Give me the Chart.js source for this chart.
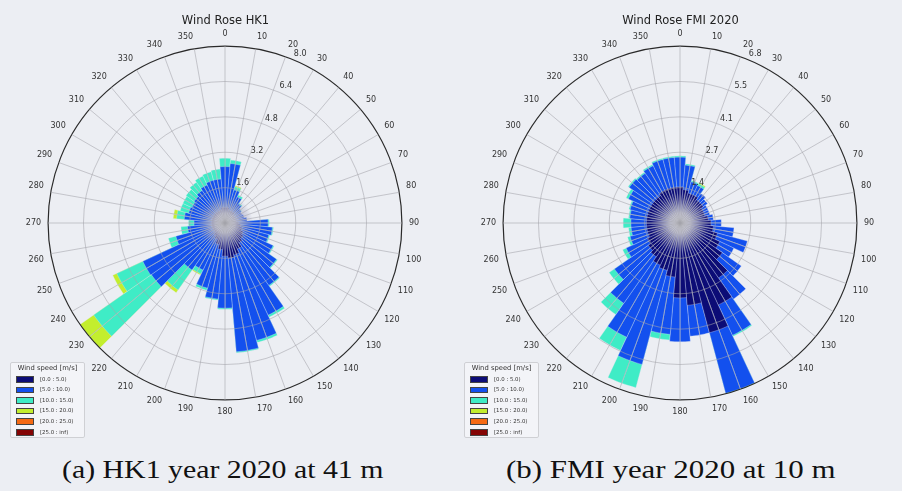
<!DOCTYPE html>
<html>
<head>
<meta charset="utf-8">
<script src="https://cdn.jsdelivr.net/npm/chart.js@4.4.1/dist/chart.umd.min.js"></script>
<style>
  html, body { margin: 0; padding: 0; }
  body { width: 902px; height: 491px; position: relative; overflow: hidden; background: #eceef3; }
  canvas { position: absolute; top: 0; }
  .legend { position: absolute; width: 73px; height: 74px; border: 1px solid #cfd0d4; border-radius: 2px;
            background: rgba(244,245,248,0.85); font-family: "DejaVu Sans", sans-serif; color: #333; }
  .legend .ttl { position: absolute; left: 0; width: 73px; top: 1px; text-align: center; font-size: 6.8px; line-height: 9px; }
  .legend .row { position: absolute; left: 5px; height: 8px; }
  .legend .sw { position: absolute; left: 0; top: 1.5px; width: 16px; height: 4.5px; border: 0.6px solid #444; }
  .legend .lb { position: absolute; left: 24px; top: 0; font-size: 5.4px; line-height: 8px; white-space: nowrap; }
  .cap { position: absolute; top: 455px; font-family: "Liberation Serif", "DejaVu Serif", serif; font-size: 25px;
         line-height: 30px; color: #111; white-space: nowrap; transform-origin: 0 50%; }
</style>
</head>
<body>
<canvas id="hk1" width="451" height="440" style="left:0"></canvas>
<canvas id="fmi" width="451" height="440" style="left:451px"></canvas>
<div class="legend" id="legHK1" style="left:10px; top:362px"></div>
<div class="legend" id="legFMI" style="left:464px; top:362px"></div>
<div class="cap" id="capA" data-center="222.5" data-width="321">(a) HK1 year 2020 at 41 m</div>
<div class="cap" id="capB" data-center="671" data-width="330">(b) FMI year 2020 at 10 m</div>
<script>
// Compass directions (degrees, clockwise from north) used as angular labels
const dirLabels = ['0','10','20','30','40','50','60','70','80','90','100','110','120','130','140','150','160','170',
                   '180','190','200','210','220','230','240','250','260','270','280','290','300','310','320','330','340','350'];

// Wind speed classes [m/s] and their colours
const speedBins = ['[0.0 : 5.0)', '[5.0 : 10.0)', '[10.0 : 15.0)', '[15.0 : 20.0)', '[20.0 : 25.0)', '[25.0 : inf)'];
const speedColors = ['#0c0c76', '#1350ee', '#3fecc6', '#c3ee2e', '#f56a14', '#840404'];

// HK1, 41 m: frequency [%] per direction for each speed class
const hk1_0_5   = [0.7,0.7,0.6,0.6,0.6,0.5,0.5,0.5,0.5,0.6,0.7,0.8,0.9,1.0,1.1,1.3,1.5,1.6,1.5,1.2,1.0,0.8,0.7,0.6,0.6,0.6,0.6,0.6,0.6,0.6,0.6,0.6,0.6,0.6,0.6,0.7];
const hk1_5_10  = [1.85,2.0,0.95,0.7,0.45,0.4,0.35,0.4,0.5,1.35,1.45,1.25,1.5,1.85,2.35,3.3,4.0,4.25,2.35,2.25,2.05,1.55,1.9,3.47,3.5,1.7,1.1,0.8,1.25,1.1,1.05,1.1,1.2,1.3,1.4,1.3];
const hk1_10_15 = [0.38,0.16,0.15,0.1,0.05,0.02,0,0,0,0.05,0.05,0.05,0.05,0.05,0.05,0.1,0.1,0.05,0.05,0.05,0.1,0.2,1.1,3.18,1.3,0.35,0.3,0.25,0.35,0.4,0.45,0.45,0.45,0.45,0.4,0.45];
const hk1_15_20 = [0,0,0.05,0,0,0,0,0,0,0,0,0,0,0,0,0,0,0,0,0,0,0.05,0.15,0.75,0.2,0,0,0,0.15,0,0,0,0,0,0,0];
const hk1_20_25 = [0,0,0,0,0,0,0,0,0,0,0,0,0,0,0,0,0,0,0,0,0,0,0,0,0,0,0,0,0,0,0,0,0,0,0,0];
const hk1_25_inf= [0,0,0,0,0,0,0,0,0,0,0,0,0,0,0,0,0,0,0,0,0,0,0,0,0,0,0,0,0,0,0,0,0,0,0,0];

// FMI, 10 m: frequency [%] per direction for each speed class
const fmi_0_5   = [1.4,1.3,1.2,1.2,1.1,1.1,1.0,1.0,1.1,1.2,1.3,1.5,1.7,2.0,2.6,3.5,4.4,3.2,2.9,2.1,1.9,1.8,1.6,1.5,1.4,1.3,1.3,1.3,1.3,1.3,1.3,1.3,1.3,1.4,1.4,1.4];
const fmi_5_10  = [1.15,0.95,0.45,0.4,0.3,0.2,0.2,0.2,0.2,0.4,0.8,1.2,0.6,0.9,1.0,1.3,2.43,1.2,1.7,2.23,3.77,3.08,2.2,1.6,0.9,0.7,0.6,0.6,0.65,0.7,0.9,1.1,1.05,1.05,1.15,1.15];
const fmi_10_15 = [0.05,0.05,0.05,0.08,0,0,0,0,0,0,0,0,0,0,0,0.05,0.02,0,0,0.22,0.93,0.57,0.53,0.25,0.15,0.1,0.1,0.3,0.05,0.05,0.1,0.05,0.05,0.05,0.05,0.05];
const fmi_15_20 = [0,0,0,0.04,0,0,0,0,0,0,0,0,0,0,0,0,0,0,0,0,0,0,0,0,0,0,0,0,0,0,0,0,0,0,0,0];
const fmi_20_25 = [0,0,0,0,0,0,0,0,0,0,0,0,0,0,0,0,0,0,0,0,0,0,0,0,0,0,0,0,0,0,0,0,0,0,0,0];
const fmi_25_inf= [0,0,0,0,0,0,0,0,0,0,0,0,0,0,0,0,0,0,0,0,0,0,0,0,0,0,0,0,0,0,0,0,0,0,0,0];

// Radial rings [%] and their labels
const hk1RingValues = [1.6, 3.2, 4.8, 6.4, 8.0];
const hk1RingLabels = ['1.6', '3.2', '4.8', '6.4', '8.0'];
const fmiRingValues = [1.37, 2.74, 4.11, 5.48, 6.85];
const fmiRingLabels = ['1.4', '2.7', '4.1', '5.5', '6.8'];

// Each 10 degree sector is split into two 5 degree halves so that the
// angular grid lines fall on the sector centres.
const HALF = 72;
const dirOf = i => Math.ceil(i / 2) % 36;
const halfLabels = Array.from({length: HALF}, (_, i) => i % 2 === 0 ? dirLabels[i / 2] : '');

// Tick labels along a fixed bearing, drawn horizontally on top of everything
const ringLabels = {
  id: 'ringLabels',
  afterDraw(chart, args, opts) {
    const s = chart.scales.r, ctx = chart.ctx;
    const a = opts.bearing * Math.PI / 180;
    ctx.save();
    ctx.font = '8px "DejaVu Sans"';
    ctx.fillStyle = '#333';
    ctx.textAlign = 'center';
    ctx.textBaseline = 'middle';
    opts.values.forEach((v, i) => {
      const d = s.getDistanceFromCenterForValue(v) + opts.offset;
      ctx.fillText(opts.labels[i], s.xCenter + d * Math.sin(a), s.yCenter - d * Math.cos(a));
    });
    ctx.restore();
  }
};

// Soft light hub where all sector edges meet
const hub = {
  id: 'hub',
  afterDatasetsDraw(chart, args, opts) {
    const s = chart.scales.r, ctx = chart.ctx;
    const g = ctx.createRadialGradient(s.xCenter, s.yCenter, 0, s.xCenter, s.yCenter, opts.radius);
    g.addColorStop(0, 'rgba(222,222,226,0.97)');
    g.addColorStop(0.35, 'rgba(200,200,210,0.85)');
    g.addColorStop(0.7, 'rgba(160,160,190,0.45)');
    g.addColorStop(1, 'rgba(130,130,180,0)');
    ctx.save();
    ctx.fillStyle = g;
    ctx.beginPath();
    ctx.arc(s.xCenter, s.yCenter, opts.radius, 0, Math.PI * 2);
    ctx.fill();
    ctx.restore();
  }
};

function windRose(canvasId, title, bins, ringValues, ringLabels_, padLeft, hubRadius) {
  // cumulative totals per class, outermost drawn first, innermost on top
  const cum = [];
  bins.forEach((b, k) => cum.push(b.map((v, d) => v + (k ? cum[k - 1][d] : 0))));
  const rmax = ringValues[ringValues.length - 1];
  const lastRing = ringValues.length;

  const datasets = bins.map((b, k) => ({
    label: speedBins[k],
    data: Array.from({length: HALF}, (_, i) => cum[k][dirOf(i)]),
    backgroundColor: c => (c.dataIndex === undefined || b[dirOf(c.dataIndex)] > 0) ? speedColors[k] : 'rgba(0,0,0,0)',
    borderColor: c => (c.dataIndex === undefined || b[dirOf(c.dataIndex)] > 0) ? 'rgba(225,228,240,0.55)' : 'rgba(0,0,0,0)',
    borderWidth: 0.6
  }));

  return new Chart(document.getElementById(canvasId), {
    type: 'polarArea',
    data: { labels: halfLabels, datasets },
    plugins: [hub, ringLabels],
    options: {
      responsive: false,
      devicePixelRatio: 1,
      animation: false,
      layout: { padding: { left: padLeft, right: 0, top: 0, bottom: 22.5 } },
      plugins: {
        legend: { display: false },
        tooltip: { enabled: false },
        title: {
          display: true, text: title, color: '#222',
          font: { family: 'DejaVu Sans', size: 11.5, weight: 'normal' },
          padding: { top: 14, bottom: 1.7 }
        },
        hub: { radius: hubRadius },
        ringLabels: { values: ringValues, labels: ringLabels_, bearing: 24, offset: 8 }
      },
      scales: {
        r: {
          min: 0, max: rmax, startAngle: 0,
          afterBuildTicks: s => { s.ticks = [0].concat(ringValues).map(v => ({ value: v })); },
          ticks: { display: false, z: 1 },
          grid: {
            z: 1, circular: true,
            color: c => c.index === lastRing ? '#2a2a2a' : 'rgba(165,165,172,0.72)',
            lineWidth: c => c.index === lastRing ? 1.2 : 0.8
          },
          angleLines: {
            display: true,
            color: 'rgba(165,165,172,0.72)',
            lineWidth: c => c.index % 2 === 0 ? 0.8 : 0
          },
          pointLabels: {
            display: true, centerPointLabels: false, padding: 7, color: '#333',
            font: { family: 'DejaVu Sans', size: 8 }
          }
        }
      }
    }
  });
}

windRose('hk1', 'Wind Rose HK1', [hk1_0_5, hk1_5_10, hk1_10_15, hk1_15_20, hk1_20_25, hk1_25_inf],
         hk1RingValues, hk1RingLabels, 0, 28);
windRose('fmi', 'Wind Rose FMI 2020', [fmi_0_5, fmi_5_10, fmi_10_15, fmi_15_20, fmi_20_25, fmi_25_inf],
         fmiRingValues, fmiRingLabels, 8, 30);

// Legends for the speed classes
function buildLegend(id) {
  const el = document.getElementById(id);
  const t = document.createElement('div');
  t.className = 'ttl';
  t.textContent = 'Wind speed [m/s]';
  el.appendChild(t);
  speedBins.forEach((lab, k) => {
    const row = document.createElement('div');
    row.className = 'row';
    row.style.top = (11.5 + k * 10.6) + 'px';
    const sw = document.createElement('div');
    sw.className = 'sw';
    sw.style.background = speedColors[k];
    const tx = document.createElement('div');
    tx.className = 'lb';
    tx.textContent = lab;
    row.appendChild(sw);
    row.appendChild(tx);
    el.appendChild(row);
  });
}
buildLegend('legHK1');
buildLegend('legFMI');

// Sub-figure captions, centred and fitted to their width
document.querySelectorAll('.cap').forEach(el => {
  const w = el.offsetWidth;
  const target = +el.dataset.width;
  el.style.left = (+el.dataset.center - target / 2) + 'px';
  el.style.transform = 'scaleX(' + (target / w) + ')';
});
</script>
</body>
</html>
